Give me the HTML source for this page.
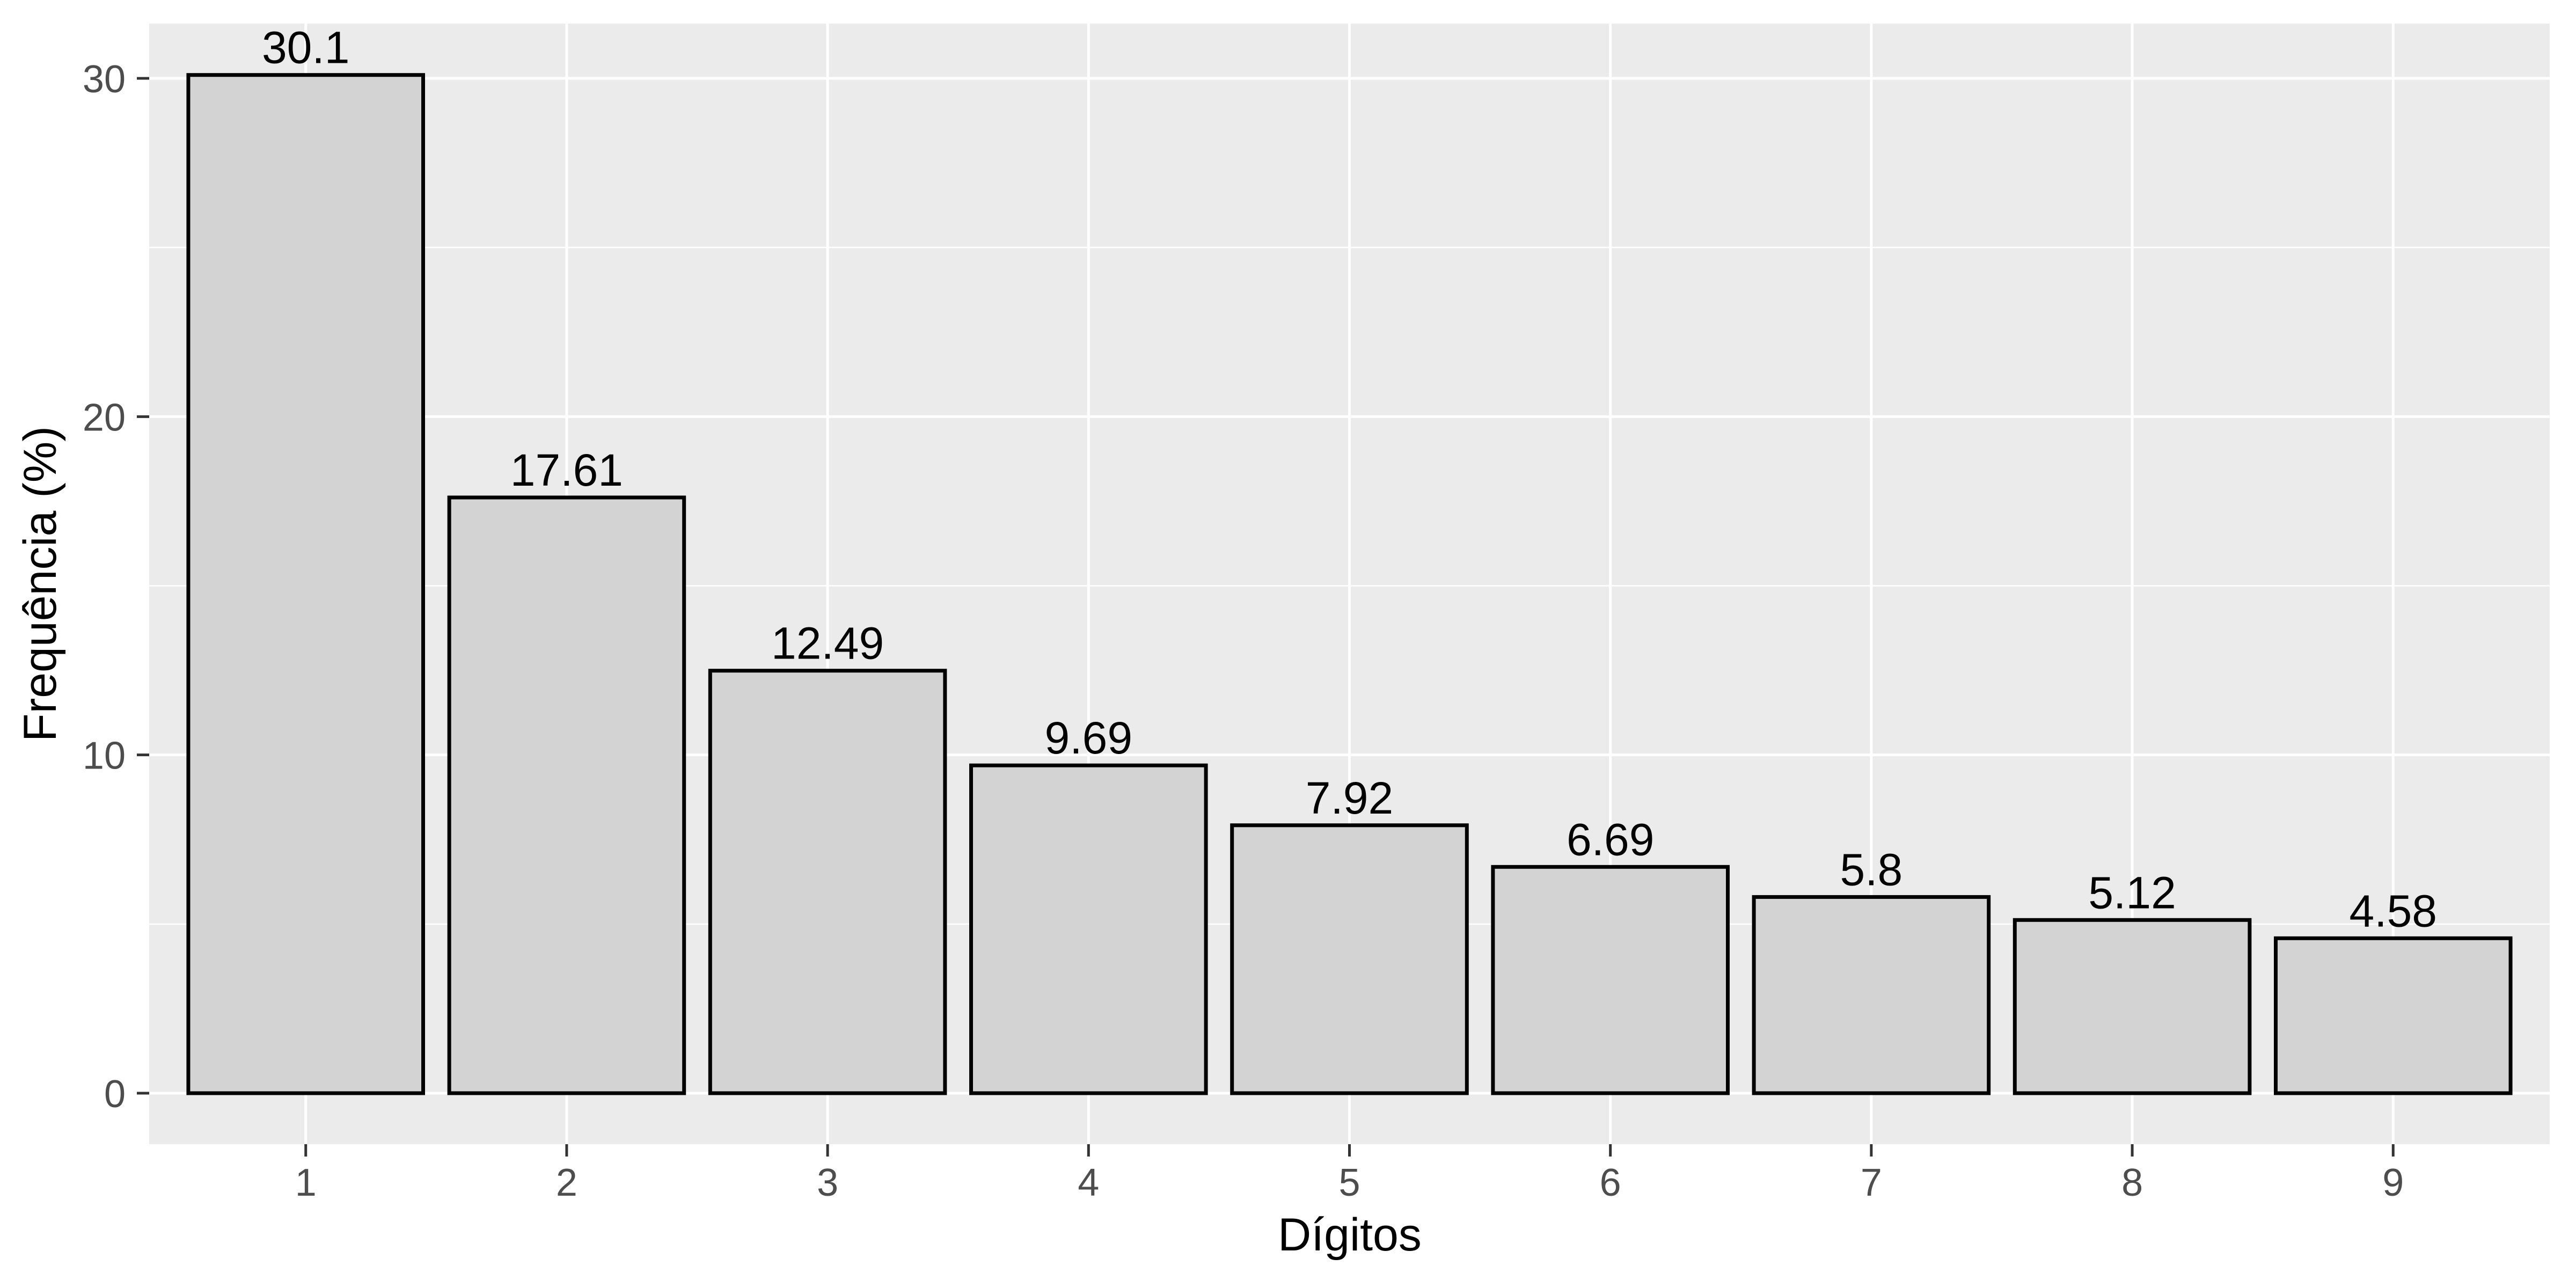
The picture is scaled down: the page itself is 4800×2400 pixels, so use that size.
<!DOCTYPE html>
<html><head><meta charset="utf-8"><style>
html,body{margin:0;padding:0;background:#fff}
svg{display:block}
text{font-family:"Liberation Sans",Arial,sans-serif}
</style></head><body>
<svg id="chart" width="4800" height="2400" viewBox="0 0 4800 2400" xmlns="http://www.w3.org/2000/svg">
<rect x="0" y="0" width="4800" height="2400" fill="#fff"/>
<rect x="278" y="44" width="4473" height="2088" fill="#EBEBEB"/>
<g id="grid"></g><g id="bars"></g><g id="labels"></g><g id="axes"></g>
<text x="2515" y="2330" font-size="86" text-anchor="middle" fill="#000">Dígitos</text>
<text transform="translate(104,1088) rotate(-90)" font-size="86" text-anchor="middle" fill="#000">Frequência (%)</text>
</svg>
<script>
const categories = ["1","2","3","4","5","6","7","8","9"];
const values = [30.1, 17.61, 12.49, 9.69, 7.92, 6.69, 5.8, 5.12, 4.58];
const valueLabels = ["30.1","17.61","12.49","9.69","7.92","6.69","5.8","5.12","4.58"];
const yTicks = [0, 10, 20, 30];
const yMinor = [5, 15, 25];

const NS = "http://www.w3.org/2000/svg";
const px0 = 278, px1 = 4751, py0 = 44, py1 = 2132;
const yMax = 31.6, yMin = -1.505;
function y(v){ return 2037 - v * (2037 - 146) / 30; }
function x(i){ return px0 + (i + 1 - 0.4) * (px1 - px0) / (categories.length + 0.2); }
const band = (px1 - px0) / (categories.length + 0.2);
function mk(tag, attrs, parent){
  const e = document.createElementNS(NS, tag);
  for (const k in attrs) e.setAttribute(k, attrs[k]);
  parent.appendChild(e); return e;
}
const grid = document.getElementById('grid');
yMinor.forEach(v => {
  const l = mk('line', {x1: px0, x2: px1, y1: y(v), y2: y(v), stroke: '#fff', 'stroke-width': 2.5}, grid);
  
  
});
yTicks.forEach(v => {
  const l = mk('line', {x1: px0, x2: px1, y1: y(v), y2: y(v), stroke: '#fff', 'stroke-width': 5}, grid);
  
  
});
categories.forEach((c, i) => {
  const l = mk('line', {x1: x(i), x2: x(i), y1: py0, y2: py1, stroke: '#fff', 'stroke-width': 5}, grid);
  
  
});
const bars = document.getElementById('bars');
const labels = document.getElementById('labels');
const bw = band * 0.9;
values.forEach((v, i) => {
  const r = mk('rect', {x: x(i) - bw/2, y: y(v), width: bw, height: y(0) - y(v), fill: '#D3D3D3', stroke: '#000', 'stroke-width': 7}, bars);
  
  
  const t = mk('text', {x: x(i), y: y(v) - 22, 'font-size': 84, 'text-anchor': 'middle', fill: '#000'}, labels);
  t.textContent = valueLabels[i];
  
  
});
const axes = document.getElementById('axes');
yTicks.forEach(v => {
  const tk = mk('line', {x1: 255, x2: px0, y1: y(v), y2: y(v), stroke: '#333', 'stroke-width': 5}, axes);
  
  
  const t = mk('text', {x: 234, y: y(v) + 26, 'font-size': 72, 'text-anchor': 'end', fill: '#4D4D4D'}, axes);
  t.textContent = String(v);
  
  
});
categories.forEach((c, i) => {
  const tk = mk('line', {x1: x(i), x2: x(i), y1: py1, y2: py1 + 23, stroke: '#333', 'stroke-width': 5}, axes);
  
  
  const t = mk('text', {x: x(i), y: 2228, 'font-size': 72, 'text-anchor': 'middle', fill: '#4D4D4D'}, axes);
  t.textContent = c;
  
  
});
</script>
</body></html>
